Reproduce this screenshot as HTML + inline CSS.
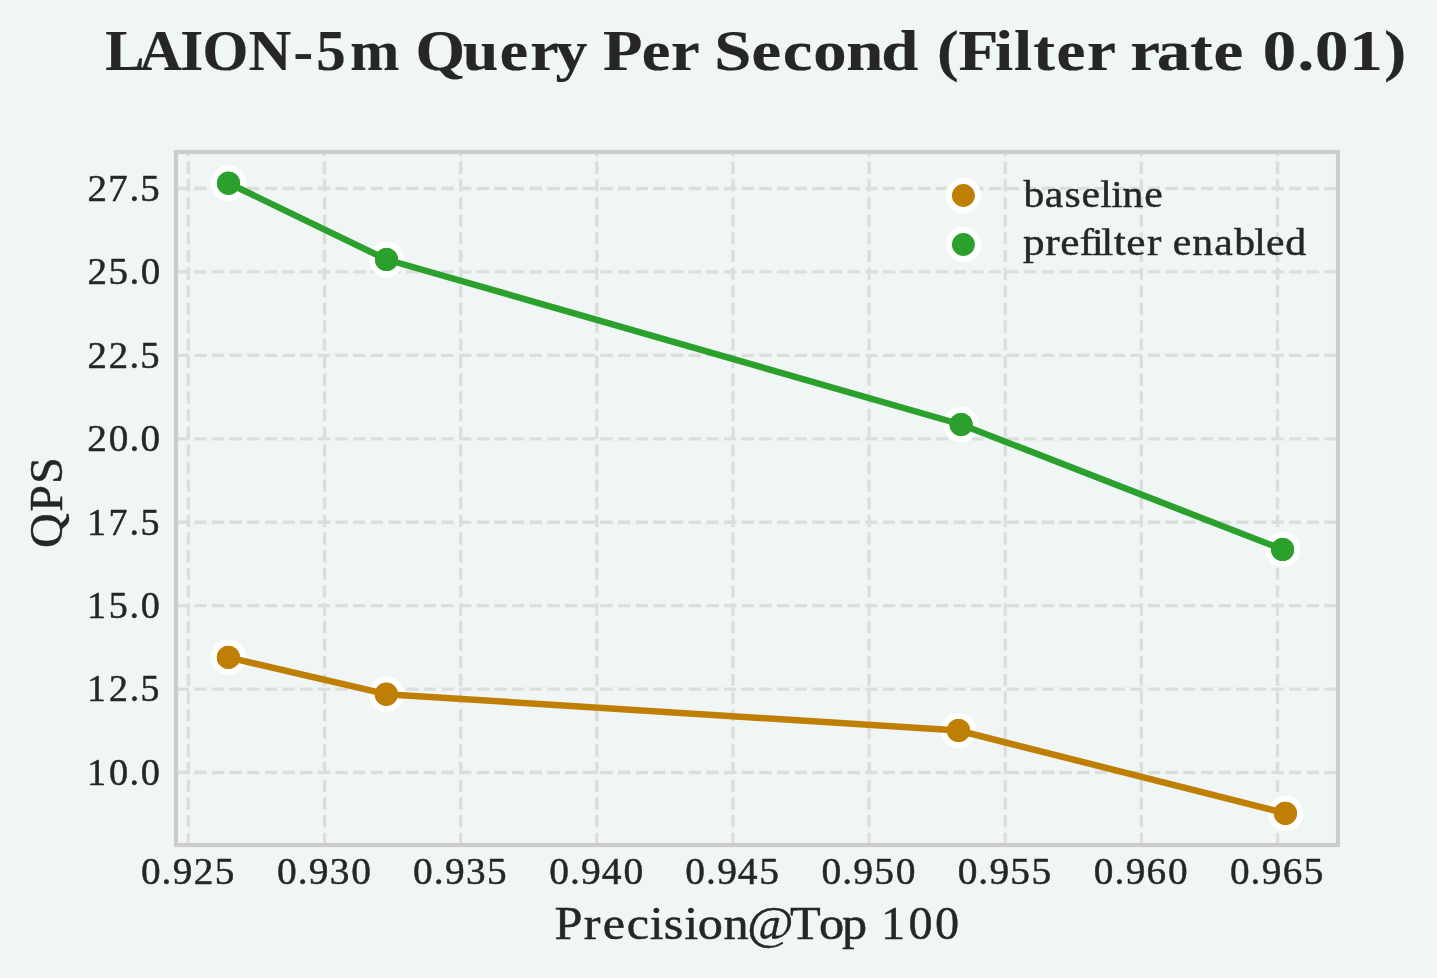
<!DOCTYPE html>
<html lang="en"><head><meta charset="utf-8"><title>LAION-5m Query Per Second (Filter rate 0.01)</title>
<style>
html,body{margin:0;padding:0;background:#f0f6f5;}
body{width:1437px;height:978px;overflow:hidden;font-family:"Liberation Serif",serif;}
svg{display:block;will-change:transform;}
svg text{font-family:"Liberation Serif",serif;fill:#262626;font-variant-ligatures:none;font-kerning:none;white-space:pre;stroke:#262626;stroke-width:0.45px;stroke-linejoin:round;}
svg text[font-weight="bold"]{stroke-width:0.2px;}
</style></head><body>
<svg width="1437" height="978" viewBox="0 0 1437 978">
<rect x="0" y="0" width="1437" height="978" fill="#f0f6f5"/>
<g stroke="#dbdedd" stroke-width="3.33" stroke-dasharray="12.33 5.33" fill="none">
<line x1="188.40" y1="845.0" x2="188.40" y2="152.0"/>
<line x1="324.54" y1="845.0" x2="324.54" y2="152.0"/>
<line x1="460.67" y1="845.0" x2="460.67" y2="152.0"/>
<line x1="596.81" y1="845.0" x2="596.81" y2="152.0"/>
<line x1="732.95" y1="845.0" x2="732.95" y2="152.0"/>
<line x1="869.09" y1="845.0" x2="869.09" y2="152.0"/>
<line x1="1005.22" y1="845.0" x2="1005.22" y2="152.0"/>
<line x1="1141.36" y1="845.0" x2="1141.36" y2="152.0"/>
<line x1="1277.50" y1="845.0" x2="1277.50" y2="152.0"/>
<line x1="176.5" y1="188.50" x2="1338.0" y2="188.50"/>
<line x1="176.5" y1="271.93" x2="1338.0" y2="271.93"/>
<line x1="176.5" y1="355.36" x2="1338.0" y2="355.36"/>
<line x1="176.5" y1="438.79" x2="1338.0" y2="438.79"/>
<line x1="176.5" y1="522.21" x2="1338.0" y2="522.21"/>
<line x1="176.5" y1="605.64" x2="1338.0" y2="605.64"/>
<line x1="176.5" y1="689.07" x2="1338.0" y2="689.07"/>
<line x1="176.5" y1="772.50" x2="1338.0" y2="772.50"/>
</g>
<circle cx="228.4" cy="657.4" r="14.6" fill="#bf7f05" stroke="#ffffff" stroke-width="6.25"/>
<circle cx="386.3" cy="694.2" r="14.6" fill="#bf7f05" stroke="#ffffff" stroke-width="6.25"/>
<circle cx="958.5" cy="730.5" r="14.6" fill="#bf7f05" stroke="#ffffff" stroke-width="6.25"/>
<circle cx="1285.4" cy="813.3" r="14.6" fill="#bf7f05" stroke="#ffffff" stroke-width="6.25"/>
<polyline points="228.4,657.4 386.3,694.2 958.5,730.5 1285.4,813.3" fill="none" stroke="#bf7f05" stroke-width="6.5" stroke-linejoin="round" stroke-linecap="butt"/>
<circle cx="228.4" cy="657.4" r="11.6" fill="#bf7f05"/>
<circle cx="386.3" cy="694.2" r="11.6" fill="#bf7f05"/>
<circle cx="958.5" cy="730.5" r="11.6" fill="#bf7f05"/>
<circle cx="1285.4" cy="813.3" r="11.6" fill="#bf7f05"/>
<circle cx="228.5" cy="183.2" r="14.6" fill="#2ca02c" stroke="#ffffff" stroke-width="6.25"/>
<circle cx="386.5" cy="259.5" r="14.6" fill="#2ca02c" stroke="#ffffff" stroke-width="6.25"/>
<circle cx="961.1" cy="424.5" r="14.6" fill="#2ca02c" stroke="#ffffff" stroke-width="6.25"/>
<circle cx="1282.6" cy="549.5" r="14.6" fill="#2ca02c" stroke="#ffffff" stroke-width="6.25"/>
<polyline points="228.5,183.2 386.5,259.5 961.1,424.5 1282.6,549.5" fill="none" stroke="#2ca02c" stroke-width="6.5" stroke-linejoin="round" stroke-linecap="butt"/>
<circle cx="228.5" cy="183.2" r="11.6" fill="#2ca02c"/>
<circle cx="386.5" cy="259.5" r="11.6" fill="#2ca02c"/>
<circle cx="961.1" cy="424.5" r="11.6" fill="#2ca02c"/>
<circle cx="1282.6" cy="549.5" r="11.6" fill="#2ca02c"/>
<rect x="176.0" y="152.0" width="1162.0" height="693.0" fill="none" stroke="#cccccc" stroke-width="4.17"/>
<circle cx="963.4" cy="195.5" r="14.6" fill="#bf7f05" stroke="#ffffff" stroke-width="6.25"/>
<circle cx="963.4" cy="244.5" r="14.6" fill="#2ca02c" stroke="#ffffff" stroke-width="6.25"/>
<text transform="translate(0 206.90) scale(1.1121 1)" x="920.36 939.42 957.09 972.60 989.41 999.22 1009.28 1028.81" y="0" font-size="37.4" font-weight="normal">baseline</text>
<text transform="translate(0 254.80) scale(1.1573 1)" x="883.89 903.19 916.16 932.87 943.32 951.65 962.27 973.20 991.04" y="0" font-size="37.4" font-weight="normal">prefilter</text>
<text transform="translate(0 254.80) scale(1.1138 1)" x="1053.04 1070.53 1090.10 1108.07 1126.11 1136.60 1153.94" y="0" font-size="37.4" font-weight="normal">enabled</text>
<text transform="translate(0 200.90) scale(1.0400 1)" x="84.06 104.05 124.53 134.88" y="0" font-size="37.4" font-weight="normal">27.5</text>
<text transform="translate(0 284.33) scale(1.0446 1)" x="83.65 103.81 123.96 134.63" y="0" font-size="37.4" font-weight="normal">25.0</text>
<text transform="translate(0 367.76) scale(1.0350 1)" x="84.51 105.00 125.15 135.58" y="0" font-size="37.4" font-weight="normal">22.5</text>
<text transform="translate(0 451.19) scale(1.0488 1)" x="83.28 103.73 123.45 134.05" y="0" font-size="37.4" font-weight="normal">20.0</text>
<text transform="translate(0 534.61) scale(1.0156 1)" x="85.67 106.79 127.63 138.35" y="0" font-size="37.4" font-weight="normal">17.5</text>
<text transform="translate(0 618.04) scale(1.0206 1)" x="85.20 106.47 126.98 138.00" y="0" font-size="37.4" font-weight="normal">15.0</text>
<text transform="translate(0 701.47) scale(1.0104 1)" x="86.16 107.77 128.31 139.12" y="0" font-size="37.4" font-weight="normal">12.5</text>
<text transform="translate(0 784.90) scale(1.0254 1)" x="84.76 106.31 126.37 137.32" y="0" font-size="37.4" font-weight="normal">10.0</text>
<text transform="translate(0 883.60) scale(1.0489 1)" x="134.32 154.04 164.64 184.63 204.70" y="0" font-size="37.4" font-weight="normal">0.925</text>
<text transform="translate(0 883.60) scale(1.0556 1)" x="262.38 282.00 292.51 312.47 332.69" y="0" font-size="37.4" font-weight="normal">0.930</text>
<text transform="translate(0 883.60) scale(1.0524 1)" x="392.54 412.21 422.76 442.78 462.68" y="0" font-size="37.4" font-weight="normal">0.935</text>
<text transform="translate(0 883.60) scale(1.0576 1)" x="519.32 538.92 549.40 568.97 589.50" y="0" font-size="37.4" font-weight="normal">0.940</text>
<text transform="translate(0 883.60) scale(1.0545 1)" x="649.93 669.57 680.09 699.71 719.93" y="0" font-size="37.4" font-weight="normal">0.945</text>
<text transform="translate(0 883.60) scale(1.0560 1)" x="777.96 797.58 808.08 827.78 848.24" y="0" font-size="37.4" font-weight="normal">0.950</text>
<text transform="translate(0 883.60) scale(1.0528 1)" x="909.61 929.28 939.83 959.59 979.73" y="0" font-size="37.4" font-weight="normal">0.955</text>
<text transform="translate(0 883.60) scale(1.0513 1)" x="1040.46 1060.15 1070.72 1090.64 1111.06" y="0" font-size="37.4" font-weight="normal">0.960</text>
<text transform="translate(0 883.60) scale(1.0481 1)" x="1173.49 1193.22 1203.83 1223.81 1243.92" y="0" font-size="37.4" font-weight="normal">0.965</text>
<text transform="translate(0 939.00) scale(1.0753 1)" x="515.66 542.87 560.53 582.88 604.17 617.30 636.44 648.83 672.95 694.90 734.62 761.70 782.98" y="0" font-size="46.8" font-weight="normal">Precision@Top</text>
<text transform="translate(0 939.00) scale(1.0312 1)" x="854.34 881.03 906.73" y="0" font-size="46.8" font-weight="normal">100</text>
<g transform="translate(61.8 547.20) rotate(-90)"><text transform="translate(0 0.00) scale(1.0304 1)" x="-0.88 34.47 61.43" y="0" font-size="46.8" font-weight="normal">QPS</text></g>
<text transform="translate(0 69.50) scale(1.0508 1)" x="100.27 132.78 171.58 192.60 236.62 279.22 300.88 333.29" y="0" font-size="56" font-weight="bold">LAION-5m</text>
<text transform="translate(0 69.50) scale(1.1395 1)" x="364.57 406.02 438.56 465.28 487.46" y="0" font-size="56" font-weight="bold">Query</text>
<text transform="translate(0 69.50) scale(1.1523 1)" x="523.23 556.95 582.21" y="0" font-size="56" font-weight="bold">Per</text>
<text transform="translate(0 69.50) scale(1.1903 1)" x="600.09 631.45 657.65 683.24 710.96 740.47" y="0" font-size="56" font-weight="bold">Second</text>
<text transform="translate(0 69.50) scale(1.1651 1)" x="804.26 822.76 853.97 870.40 886.76 906.81 932.95" y="0" font-size="56" font-weight="bold">(Filter</text>
<text transform="translate(0 69.50) scale(1.1960 1)" x="945.13 967.27 995.24 1014.69" y="0" font-size="56" font-weight="bold">rate</text>
<text transform="translate(0 69.50) scale(1.1951 1)" x="1056.70 1085.60 1100.38 1129.03 1158.05" y="0" font-size="56" font-weight="bold">0.01)</text>
</svg>
</body></html>
